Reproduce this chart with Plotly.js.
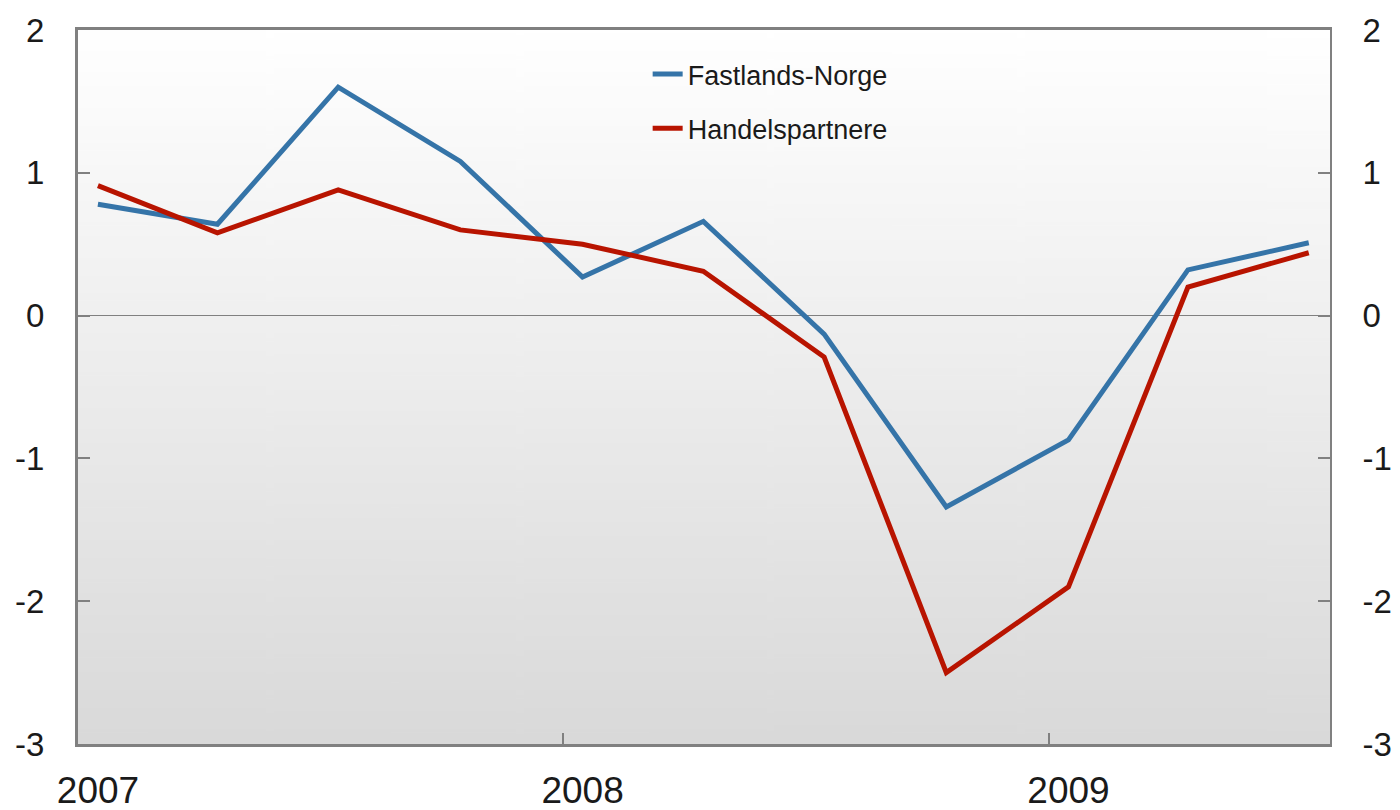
<!DOCTYPE html>
<html>
<head>
<meta charset="utf-8">
<script src="https://cdn.plot.ly/plotly-3.0.1.min.js"></script>
<style>html,body{margin:0;padding:0;background:#fff;}#chart{width:1400px;height:810px;}</style>
</head>
<body>
<div id="chart"></div>
<script>
const quarters = ['2007-01-16','2007-04-16','2007-07-16','2007-10-16','2008-01-16','2008-04-16','2008-07-16','2008-10-16','2009-01-16','2009-04-16','2009-07-16'];
const fastlandsNorge = [0.78, 0.64, 1.60, 1.08, 0.27, 0.66, -0.13, -1.34, -0.87, 0.32, 0.51];
const handelspartnere = [0.91, 0.58, 0.88, 0.60, 0.50, 0.31, -0.29, -2.50, -1.90, 0.20, 0.44];
const seriesNames = ['Fastlands-Norge', 'Handelspartnere'];
const yearTicks = ['2007-01-01','2008-01-01','2009-01-01'];
const yearLabels = ['2007','2008','2009'];
const yTicks = [-3, -2, -1, 0, 1, 2];
const yLabels = ['-3', '-2', '-1', '0', '1', '2'];

// gradient background image
const cv = document.createElement('canvas');
cv.width = 10; cv.height = 400;
const ctx = cv.getContext('2d');
const g = ctx.createLinearGradient(0, 0, 0, 400);
g.addColorStop(0, '#ffffff');
g.addColorStop(1, '#d9d9d9');
ctx.fillStyle = g;
ctx.fillRect(0, 0, 10, 400);
const bg = cv.toDataURL('image/png');

const fontFam = '"Liberation Sans", Arial, sans-serif';

const traces = [
  {x: quarters, y: fastlandsNorge, name: seriesNames[0], type: 'scatter', mode: 'lines',
   line: {color: '#3574a8', width: 5}, legendgroup: 'a', yaxis: 'y'},
  {x: quarters, y: handelspartnere, name: seriesNames[1], type: 'scatter', mode: 'lines',
   line: {color: '#b81400', width: 5}, legendgroup: 'b', yaxis: 'y2'}
];

const yCommon = {
  range: [-3, 2], tickmode: 'array', tickvals: yTicks, ticktext: yLabels,
  ticks: 'inside', ticklen: 12, tickwidth: 2, tickcolor: '#808080',
  ticklabelstandoff: 24,
  tickfont: {size: 33, family: fontFam, color: '#1a1a1a'},
  showline: true, linecolor: '#808080', showgrid: false, fixedrange: true
};

const layout = {
  width: 1400, height: 810,
  margin: {l: 78, r: 70, t: 30, b: 66},
  paper_bgcolor: '#ffffff',
  plot_bgcolor: 'rgba(0,0,0,0)',
  font: {family: fontFam, color: '#1a1a1a'},
  showlegend: true,
  legend: {x: 0.455, xanchor: 'left', y: 0.972, yanchor: 'top', bgcolor: 'rgba(0,0,0,0)',
           font: {size: 27, family: fontFam, color: '#1a1a1a'},
           traceorder: 'grouped', tracegroupgap: 16},
  images: [{source: bg, xref: 'paper', yref: 'paper', x: 0, y: 1, sizex: 1, sizey: 1,
            sizing: 'stretch', layer: 'below', xanchor: 'left', yanchor: 'top'}],
  xaxis: {type: 'date', range: ['2007-01-01', '2009-08-01'],
          tickmode: 'array', tickvals: yearTicks, ticktext: yearLabels,
          ticks: 'inside', ticklen: 11, tickwidth: 2, tickcolor: '#808080',
          ticklabelshift: 20, ticklabelstandoff: 12,
          tickfont: {size: 37, family: fontFam, color: '#1a1a1a'},
          showline: true, linecolor: '#808080', linewidth: 3, mirror: true,
          showgrid: false, zeroline: false},
  yaxis: Object.assign({}, yCommon, {linewidth: 3, zeroline: true, zerolinecolor: '#808080', zerolinewidth: 1}),
  yaxis2: Object.assign({}, yCommon, {overlaying: 'y', side: 'right', linewidth: 2, zeroline: false})
};

Plotly.newPlot('chart', traces, layout, {displayModeBar: false, staticPlot: true});
</script>
</body>
</html>
